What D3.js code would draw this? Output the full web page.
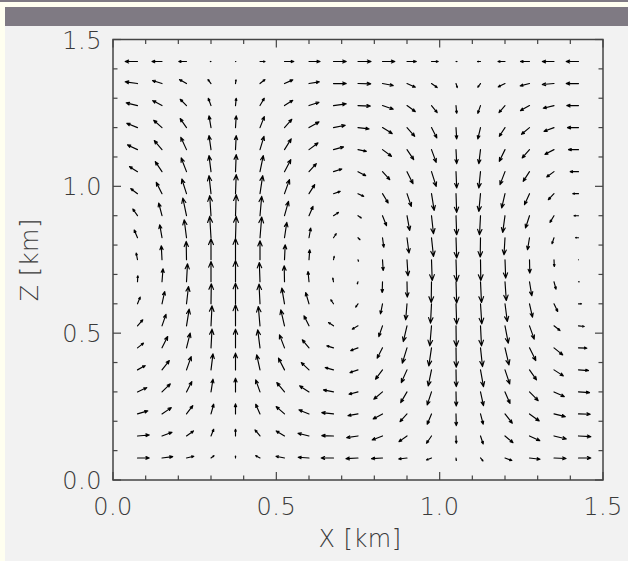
<!DOCTYPE html>
<html><head><meta charset="utf-8">
<script src="https://cdn.jsdelivr.net/npm/d3@7"></script>
<style>
html,body{margin:0;padding:0;background:#fffff0;}
svg{display:block;}
text{font-family:"DejaVu Sans",sans-serif;font-weight:200;fill:#3a3a3a;}
</style></head><body>
<svg id="c" width="628" height="561"></svg>
<script>
// grid positions (km)
const gridX = [0.075,0.15,0.225,0.3,0.375,0.45,0.525,0.6,0.675,0.75,0.825,0.9,0.975,1.05,1.125,1.2,1.275,1.35,1.425];
const gridZ = [0.075,0.15,0.225,0.3,0.375,0.45,0.525,0.6,0.675,0.75,0.825,0.9,0.975,1.05,1.125,1.2,1.275,1.35,1.425];
const xTickLabels = ["0.0","0.5","1.0","1.5"];
const zTickLabels = ["0.0","0.5","1.0","1.5"];
const majorTicks = [0,0.5,1.0,1.5];
const minorTicks = [0.1,0.2,0.3,0.4,0.6,0.7,0.8,0.9,1.1,1.2,1.3,1.4];
// horizontal velocity u, rows from bottom (z=0.075) to top (z=1.425)
const uRows = [
[11.7,10.7,7.3,3,0,-4.3,-8.5,-10.8,-12.3,-12,-11,-8.3,-5,0.3,2.5,6.8,10.5,12,12.3],
[11.7,10,7,2.7,0,-5,-8.3,-11,-11.7,-11.3,-10.3,-8,-5,0.3,2.7,8,10.3,12.3,12.3],
[10.3,9.3,6.3,2.7,0,-4.3,-8.3,-10,-11.7,-10,-9.3,-7,-4.3,0.3,2.7,7.3,9.7,11.3,11.7],
[9.3,8.3,5.3,2,0,-4.3,-7.7,-9.3,-10,-9,-8.7,-6.3,-4.3,0.3,3,5,8.7,10.3,11],
[7.7,7.3,4.7,2,0,-3.3,-6,-7.7,-8.3,-8,-7,-5.7,-3.3,0.3,3,4.7,7,9.3,10],
[6,5.7,3.7,1,0,-2.3,-5,-6.7,-6.7,-7.3,-5.3,-4.7,-2.7,0.3,2,4,6.3,8.7,8.3],
[5.3,4,2.7,1,0,-1.7,-3.7,-5,-5,-5.7,-3.7,-3.7,-1.7,0.3,1,3.3,4.7,6,5.7],
[2.7,2.7,2,0.3,0,-1,-2.7,-3.3,-2.7,-2.3,-2,-1.3,-1,0.7,1.3,2.3,3,3.7,3],
[0.3,1,1,0,0,-0.7,-0.3,-1,-0.7,-0.7,-0.3,0.3,-0.3,0.7,1,1.3,2.3,2,0.7],
[-1.3,-0.7,-0.3,0,0,0,0.7,0.7,0.7,0.5,0.7,1,0.7,0.7,0.3,0.7,0.3,0.3,0],
[-3.3,-2.3,-2.3,-1.3,0.7,1.7,2.3,1.7,2.7,2,1.3,2,2,0.7,-0.3,-1,-2,-2,-3],
[-4.7,-3.3,-3.7,-1.3,0.7,1.7,4,4,5,3.3,4,2.7,2,0.7,-1,-2.3,-4,-4,-4.5],
[-6.7,-5.7,-4.7,-2,0.7,2.7,5,5.7,6.7,5.7,5.7,4.3,2.7,0.7,-1.7,-3.3,-5,-5.7,-5.7],
[-8,-6.7,-5.3,-2,0.7,3.3,6.3,7.3,8.3,7.7,7.3,6,4.7,0.7,-1.7,-5,-6.3,-7.3,-8.3],
[-10,-7.7,-5.7,-2,0.7,4,6.7,9,10,8.3,9,6.7,4.7,0.7,-1.7,-5.7,-7.3,-9,-10],
[-10.7,-8.3,-6.3,-2,0.7,4.3,7.3,10,11.7,11,9.7,7.7,5.3,0.7,-2.7,-5.7,-8,-10,-11],
[-11.3,-9.3,-6.3,-2.7,0.7,4.3,8.3,10,12.7,12.3,10.7,8.3,5.7,0.7,-2.7,-6,-9,-10.7,-11.7],
[-12.3,-9.5,-7,-3,0.5,5,8.3,10.3,12.7,12.7,10.7,8.3,5.7,1.3,-2.7,-6.7,-9.3,-11.7,-12.3],
[-12.3,-10,-7.7,-0.7,0.3,5,9.3,11,12.7,13,12.3,9.3,6.7,1,-3,-7,-9,-11.7,-12.3]
];
// vertical velocity w, same layout
const wRows = [
[0,1.3,1.7,2.3,2,2.3,1.7,0.7,0,-0.7,-0.7,-1,-2,-2.5,-3,-2.5,-1.3,-0.5,0],
[1,3.7,5,6.7,6.7,6,5,2.7,0.3,-1.7,-4,-5.7,-7.3,-7.3,-8,-6.7,-4.7,-3,-0.7],
[3,6.3,8.3,9.7,10,9.7,7.3,4,1.3,-1.7,-5,-7.7,-10.3,-11.7,-10.3,-9.3,-7,-2.7,-0.3],
[4.3,8,10.3,12.7,13.7,12,9.3,6,2,-2.3,-7.3,-10.7,-13,-14,-13.7,-11.5,-8.7,-4.7,-0.7],
[4.3,9.3,13.3,16,16.7,15,11.7,7.3,2.3,-2.7,-9.3,-12.7,-16,-16.7,-16.7,-14,-10,-6,-0.7],
[4.7,11.3,14.7,18.7,18.7,18,13,8,2,-2.7,-10.3,-15.3,-18,-19.3,-18.7,-17,-12.7,-7,-0.3],
[6,11.5,16.7,20,21,19.3,16,10,3.3,-3.3,-10.7,-15.7,-20,-20.7,-20,-17.3,-13.3,-4.7,-0.7],
[6.7,12.3,17.3,20,20.7,19.7,15.7,11.3,4,-3.3,-10,-16,-19.3,-20.3,-20,-17.7,-13.3,-7.7,0],
[6,13,18,20.3,21.3,19.3,16,10.3,3.7,-2,-10.7,-15.3,-20.7,-21.3,-20.7,-18.7,-14,-7.3,0],
[6.7,14,18.3,21,21.3,19,15,10,3.3,-1.5,-10.7,-16,-20.7,-21.7,-20.7,-18.3,-13.3,-6.7,0],
[7.7,13,18,21.3,21.3,20.7,15.3,9.7,4,-2,-9.5,-15.3,-18.7,-20.3,-19.3,-17,-12,-6,0],
[6.7,12.7,17.7,20,21,19.3,14.3,9.3,3.3,-2.3,-10,-14.7,-18,-19,-19,-16.7,-12.3,-6.7,0],
[5,11.3,14.7,18,19,18,14,9,2.3,-2.7,-9.3,-12.7,-16.7,-18.7,-17.7,-14.3,-11,-6,0],
[5,10,13.7,16,17,16,12,8,2.7,-4,-8,-12,-14.7,-16.3,-16.3,-13,-9.7,-5.3,0],
[4.7,9,12.3,14,14,13.3,10.7,6.7,2.7,-1.7,-6.7,-10,-12.7,-14,-14,-11.7,-8.3,-4.7,0],
[4.3,7.3,9,11.7,11.7,11,8.3,5.7,2.3,-1.3,-6,-8.7,-10.3,-11.3,-11.3,-8.7,-6.7,-3.7,0],
[2.7,5,6.3,7.3,7.3,7.3,5.3,3.3,1.7,-0.5,-3.7,-6,-7,-7.7,-7.7,-7,-5,-2.7,0],
[1.7,3,4,4,3.7,4,3.7,1.7,0,-0.3,-2,-3.7,-4,-4,-3.7,-3.3,-2.3,-1,0],
[0,0,0,0,0,0,0,0,0,0,0,0,0,0,0,0,0,0,0]
];

const svg = d3.select("#c");
const W = 628, H = 561;
const L = 113, R = 603, T = 39.5, B = 480;

// page background layers
svg.append("rect").attr("x",0).attr("y",0).attr("width",W).attr("height",H).attr("fill","#fffff0");
svg.append("rect").attr("x",0).attr("y",0).attr("width",W).attr("height",2).attr("fill","#7f7a83");
svg.append("rect").attr("x",5).attr("y",7).attr("width",W-5).attr("height",19).attr("fill","#7f7a83");
svg.append("rect").attr("x",5).attr("y",26).attr("width",W-5).attr("height",H-26).attr("fill","#f2f2f2");

const xs = d3.scaleLinear().domain([0,1.5]).range([L,R]);
const zs = d3.scaleLinear().domain([0,1.5]).range([B,T]);
const vs = d3.scaleLinear().domain([0,1]).range([0,1]);

// arrows
const r = 0.3, ang = 22.5*Math.PI/180, ca = Math.cos(ang), sa = Math.sin(ang);
const vecs = [];
gridZ.forEach((z,j)=>gridX.forEach((x,i)=>vecs.push({x, z, u:uRows[j][i], w:wRows[j][i]})));
svg.append("g").selectAll("path").data(vecs).join("path")
  .attr("d", d=>{
    const x0 = xs(d.x), y0 = zs(d.z);
    const ex = vs(d.u), ey = -vs(d.w);
    const x1 = x0+ex, y1 = y0+ey;
    const h1x = x1 - r*(ex*ca - ey*sa), h1y = y1 - r*(ey*ca + ex*sa);
    const h2x = x1 - r*(ex*ca + ey*sa), h2y = y1 - r*(ey*ca - ex*sa);
    return `M${x0},${y0}L${x1},${y1}M${h1x},${h1y}L${x1},${y1}L${h2x},${h2y}`;
  })
  .attr("fill","none").attr("stroke","#000").attr("stroke-width",1.15)
  .attr("stroke-linecap","round").attr("stroke-linejoin","round");

// frame
svg.append("rect").attr("x",L).attr("y",T).attr("width",R-L).attr("height",B-T)
  .attr("fill","none").attr("stroke","#444").attr("stroke-width",1.5);

// ticks (inward on all sides)
const tg = svg.append("g").attr("stroke","#444").attr("stroke-width",1.2);
const tickSets = [[majorTicks,8],[minorTicks,4.5]];
tickSets.forEach(([vals,len])=>{
  vals.forEach(v=>{
    tg.append("line").attr("x1",xs(v)).attr("x2",xs(v)).attr("y1",B).attr("y2",B-len);
    tg.append("line").attr("x1",xs(v)).attr("x2",xs(v)).attr("y1",T).attr("y2",T+len);
    tg.append("line").attr("y1",zs(v)).attr("y2",zs(v)).attr("x1",L).attr("x2",L+len);
    tg.append("line").attr("y1",zs(v)).attr("y2",zs(v)).attr("x1",R).attr("x2",R-len);
  });
});

// tick labels
svg.append("g").selectAll("text").data(majorTicks).join("text")
  .attr("x",d=>xs(d)).attr("y",B+35).attr("text-anchor","middle")
  .attr("font-size",24).attr("letter-spacing",0.5).text((d,i)=>xTickLabels[i]);
svg.append("g").selectAll("text").data(majorTicks).join("text")
  .attr("x",L-11).attr("y",d=>zs(d)+9).attr("text-anchor","end")
  .attr("font-size",24).attr("letter-spacing",0.5).text((d,i)=>zTickLabels[i]);

// axis titles
svg.append("text").attr("x",(L+R)/2+2).attr("y",547).attr("text-anchor","middle")
  .attr("font-size",24).attr("letter-spacing",0.5).text("X [km]");
svg.append("text").attr("transform",`translate(38,${(T+B)/2}) rotate(-90)`)
  .attr("text-anchor","middle").attr("font-size",24).attr("letter-spacing",0.5).text("Z [km]");
</script>
</body></html>
